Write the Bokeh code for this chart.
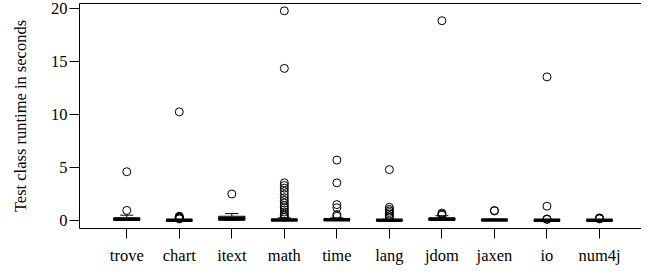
from bokeh.plotting import figure
from bokeh.models import Range1d, FixedTicker, LinearAxis
from bokeh.embed import file_html
from bokeh.resources import INLINE

categories = ["trove", "chart", "itext", "math", "time", "lang", "jdom", "jaxen", "io", "num4j"]
q1 = [0.02, 0.0, 0.02, 0.0, 0.02, 0.0, 0.02, 0.0, 0.0, 0.0]
median = [0.12, 0.02, 0.2, 0.04, 0.08, 0.03, 0.12, 0.04, 0.03, 0.02]
q3 = [0.25, 0.05, 0.4, 0.1, 0.12, 0.06, 0.25, 0.07, 0.05, 0.04]
whisker_lo = [0.0, 0.0, 0.0, 0.0, 0.0, 0.0, 0.0, 0.0, 0.0, 0.0]
whisker_hi = [0.5, 0.1, 0.65, 0.25, 0.25, 0.12, 0.45, 0.12, 0.1, 0.08]
outliers = {
    "trove": [4.6, 0.95],
    "chart": [10.25, 0.4, 0.35, 0.3, 0.25, 0.2, 0.15],
    "itext": [2.5],
    "math": [19.78, 14.35, 3.55, 3.3, 3.05, 2.75, 2.45, 2.15, 1.9, 1.65, 1.4, 1.2, 1.0, 0.8, 0.6, 0.45, 0.3],
    "time": [5.7, 3.55, 1.5, 1.2, 0.55, 0.4],
    "lang": [4.8, 1.25, 1.05, 0.9, 0.75, 0.6, 0.45, 0.3],
    "jdom": [18.85, 0.7, 0.6, 0.5],
    "jaxen": [0.95, 0.9],
    "io": [13.55, 1.35, 0.15, 0.1],
    "num4j": [0.25, 0.2, 0.15],
}
y_ticks = [0, 5, 10, 15, 20]
y_label = "Test class runtime in seconds"

FONT = "Liberation Serif"
FS = "16.5px"

xs = list(range(1, len(categories) + 1))
BOXW = 0.5
STAPLEW = 0.25

p = figure(width=641, height=267, output_backend="svg", toolbar_location=None,
           x_range=Range1d(0.1, 10.8), y_range=Range1d(-0.755, 20.472),
           min_border_left=79, min_border_right=0, min_border_top=3, min_border_bottom=39,
           x_axis_location=None, y_axis_location=None)
p.outline_line_color = None
p.xgrid.visible = False
p.ygrid.visible = False
p.background_fill_color = "white"
p.border_fill_color = "white"

# left axis
ya = LinearAxis(ticker=FixedTicker(ticks=y_ticks), axis_label=y_label)
ya.major_tick_out = 10
ya.major_tick_in = 0
ya.minor_tick_out = 0
ya.minor_tick_in = 0
ya.major_label_standoff = 2
ya.axis_label_standoff = 18
ya.major_label_text_font = FONT
ya.major_label_text_font_size = FS
ya.major_label_text_color = "black"
ya.axis_label_text_font = FONT
ya.axis_label_text_font_size = FS
ya.axis_label_text_font_style = "normal"
ya.axis_label_text_color = "black"
ya.axis_line_color = "black"
ya.major_tick_line_color = "black"
p.add_layout(ya, "left")

# bottom axis
xa = LinearAxis(ticker=FixedTicker(ticks=xs))
xa.major_label_overrides = {i: c for i, c in zip(xs, categories)}
xa.major_tick_out = 10
xa.major_tick_in = 0
xa.minor_tick_out = 0
xa.minor_tick_in = 0
xa.major_label_standoff = 7
xa.major_label_text_font = FONT
xa.major_label_text_font_size = FS
xa.major_label_text_color = "black"
xa.axis_line_color = "black"
xa.major_tick_line_color = "black"
p.add_layout(xa, "below")

# top frame line
ta = LinearAxis(ticker=FixedTicker(ticks=[]))
ta.major_tick_out = 0
ta.major_tick_in = 0
ta.minor_tick_out = 0
ta.minor_tick_in = 0
ta.major_label_standoff = 0
ta.axis_label_standoff = 0
ta.major_label_text_font_size = "0px"
ta.axis_line_color = "black"
p.add_layout(ta, "above")

# whiskers (dashed)
p.segment(x0=xs, y0=q3, x1=xs, y1=whisker_hi, line_color="black", line_width=1, line_dash="4 3")
p.segment(x0=xs, y0=whisker_lo, x1=xs, y1=q1, line_color="black", line_width=1, line_dash="4 3")
# staples
p.segment(x0=[x - STAPLEW / 2 for x in xs], y0=whisker_hi, x1=[x + STAPLEW / 2 for x in xs], y1=whisker_hi,
          line_color="black", line_width=1)
p.segment(x0=[x - STAPLEW / 2 for x in xs], y0=whisker_lo, x1=[x + STAPLEW / 2 for x in xs], y1=whisker_lo,
          line_color="black", line_width=1)
# boxes
p.vbar(x=xs, width=BOXW, bottom=q1, top=q3, fill_color="white", line_color="black", line_width=1)
# medians
p.segment(x0=[x - BOXW / 2 for x in xs], y0=median, x1=[x + BOXW / 2 for x in xs], y1=median,
          line_color="black", line_width=3.5)

# outliers
ox, oy = [], []
for i, c in enumerate(categories):
    for v in outliers[c]:
        ox.append(xs[i])
        oy.append(v)
p.scatter(ox, oy, marker="circle", size=8, fill_color=None, line_color="black", line_width=1)

open("out.html", "w").write(file_html(p, INLINE))
